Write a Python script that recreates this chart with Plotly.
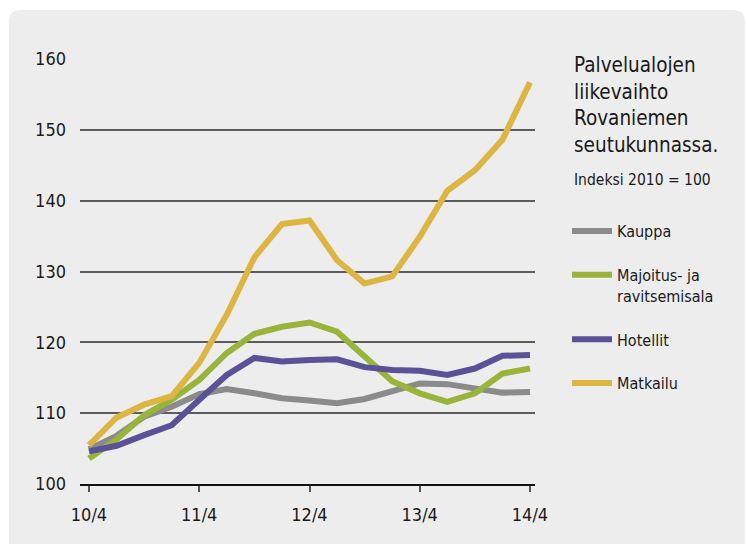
import plotly.graph_objects as go

# Quarterly periods from 2010 Q4 to 2014 Q4
periods = ["10/4", "11/1", "11/2", "11/3", "11/4", "12/1", "12/2", "12/3", "12/4",
           "13/1", "13/2", "13/3", "13/4", "14/1", "14/2", "14/3", "14/4"]
tick_labels = ["10/4", "11/4", "12/4", "13/4", "14/4"]
y_ticks = [100, 110, 120, 130, 140, 150, 160]

kauppa = [104.9, 106.8, 109.5, 110.9, 112.7, 113.4, 112.8, 112.1, 111.8,
          111.4, 112.0, 113.0, 114.2, 114.1, 113.5, 112.9, 113.0]
majoitus = [103.6, 106.3, 109.7, 111.9, 114.7, 118.5, 121.2, 122.2, 122.8,
            121.5, 118.0, 114.5, 112.8, 111.6, 112.8, 115.6, 116.3]
hotellit = [104.6, 105.4, 106.9, 108.3, 111.9, 115.4, 117.8, 117.3, 117.5,
            117.6, 116.5, 116.1, 116.0, 115.4, 116.3, 118.1, 118.2]
matkailu = [105.5, 109.4, 111.2, 112.4, 117.1, 123.9, 132.0, 136.7, 137.2,
            131.6, 128.3, 129.3, 134.9, 141.4, 144.3, 148.6, 156.7]

series = [
    ("Kauppa", kauppa, "#8b8b8b"),
    ("Majoitus- ja<br>ravitsemisala", majoitus, "#98b43a"),
    ("Hotellit", hotellit, "#5a5197"),
    ("Matkailu", matkailu, "#dcb543"),
]

FONT = "Liberation Sans Narrow, DejaVu Sans Condensed, Roboto, sans-serif"

fig = go.Figure()
for i, (name, vals, color) in enumerate(series):
    fig.add_trace(go.Scatter(
        x=periods, y=vals, name=name, mode="lines",
        line=dict(color=color, width=6),
        legendgroup=f"g{i}",
    ))

# plot area in pixels: x 80..535, y 59..484
L, R, T, B = 80, 535, 59, 484
W, H = 747, 544


def px(x):
    return (x - L) / (R - L)


def py(y):
    return (B - y) / (B - T)


# light grey panel with rounded top corners
x0, x1, yt, yb = px(9), px(745), py(10), py(544)
dx, dy = 12 / (R - L), 12 / (B - T)
panel = (f"M {x0},{yb} L {x0},{yt - dy} Q {x0},{yt} {x0 + dx},{yt} "
         f"L {x1 - dx},{yt} Q {x1},{yt} {x1},{yt - dy} L {x1},{yb} Z")
fig.add_shape(type="path", path=panel, xref="paper", yref="paper",
              fillcolor="#ededed", line=dict(width=0), layer="below")

fig.add_annotation(
    text="Palvelualojen<br>liikevaihto<br>Rovaniemen<br>seutukunnassa.",
    x=px(572), y=py(51), xref="paper", yref="paper",
    xanchor="left", yanchor="top", align="left", showarrow=False,
    font=dict(family=FONT, size=20.5, color="#1a1a1a"),
)
fig.add_annotation(
    text="Indeksi 2010 = 100",
    x=px(572), y=py(169), xref="paper", yref="paper",
    xanchor="left", yanchor="top", align="left", showarrow=False,
    font=dict(family=FONT, size=15.5, color="#1a1a1a"),
)

fig.update_layout(
    width=W, height=H,
    margin=dict(l=L, r=W - R, t=T, b=H - B, autoexpand=False),
    paper_bgcolor="white",
    plot_bgcolor="rgba(0,0,0,0)",
    font=dict(family=FONT, size=18, color="#1a1a1a"),
    showlegend=True,
    legend=dict(
        x=px(567), y=py(214), xanchor="left", yanchor="top",
        bgcolor="rgba(0,0,0,0)", font=dict(family=FONT, size=16, color="#1a1a1a"),
        itemwidth=40, tracegroupgap=20, valign="top",
    ),
    xaxis=dict(
        type="category", range=[-(89 - L) / 27.5625, 16 + (R - 530) / 27.5625],
        tickmode="array", tickvals=tick_labels, ticktext=tick_labels,
        showgrid=False, zeroline=False,
        showline=True, linecolor="#111111", linewidth=2,
        ticks="outside", ticklen=6, tickwidth=2, tickcolor="#555555",
        ticklabelstandoff=7,
        tickfont=dict(family=FONT, size=18, color="#1a1a1a"),
    ),
    yaxis=dict(
        range=[100, 160], tickmode="array", tickvals=y_ticks,
        showgrid=True, gridcolor="#5c5c5c", gridwidth=1.5,
        zeroline=False, showline=False, ticks="",
        ticklabelstandoff=13,
        tickfont=dict(family=FONT, size=18, color="#1a1a1a"),
    ),
)

fig.write_html("out.html")
